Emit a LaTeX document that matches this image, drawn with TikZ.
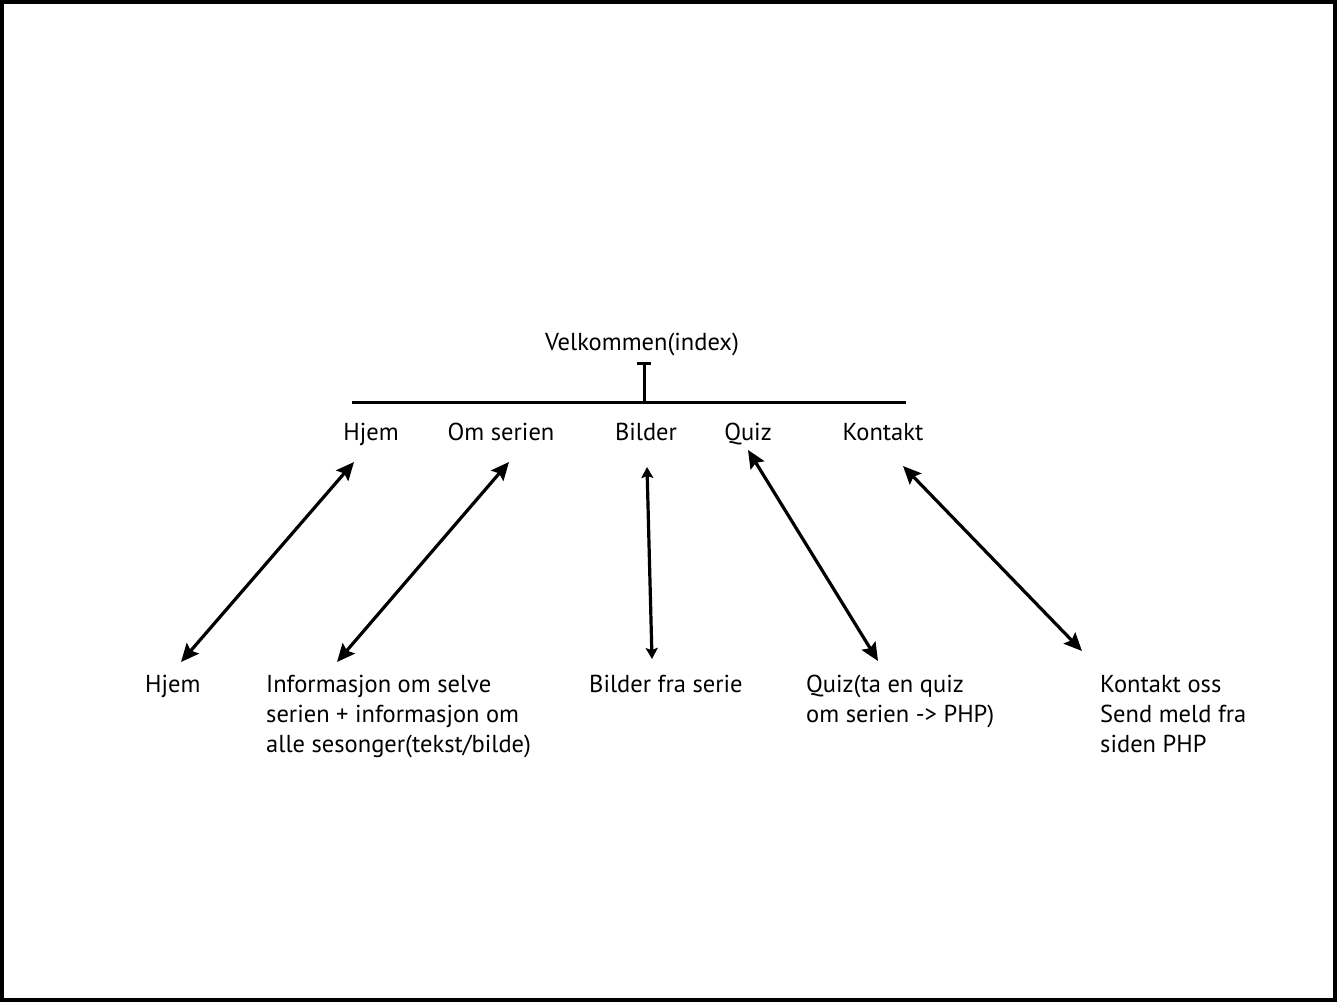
\documentclass[tikz,border=0pt]{standalone}
\usepackage{fontspec}
\setmainfont{PT Sans}
\usetikzlibrary{arrows.meta}
\begin{document}
\begin{tikzpicture}[x=1pt,y=-1pt,
  lbl/.style={inner sep=0pt, anchor=base, font=\fontsize{24.5}{30}\selectfont},
  sub/.style={inner sep=0pt, anchor=base west, align=left, font=\fontsize{24.5}{30}\selectfont},
  link/.style={line width=3.2pt, {Stealth[length=18pt,width=16pt,inset=3pt]}-{Stealth[length=18pt,width=16pt,inset=3pt]}},
  short link/.style={line width=3.2pt, {Stealth[length=11pt,width=12pt,inset=2pt]}-{Stealth[length=11pt,width=12pt,inset=2pt]}}]
\useasboundingbox (0,0) rectangle (1338,1004);
\draw[line width=4pt] (2,2) rectangle (1335,1000);

% root and menu bar
\node[lbl] (root) at (642,350) {Velkommen(index)};
\coordinate (barL) at (352,402);
\coordinate (barR) at (906,402);
\coordinate (barM) at (644,402);
\coordinate (rootEnd) at (644,362);
\draw[line width=3pt] (barL) -- (barR);
\draw[line width=3pt, -{Bar[width=14pt,line width=3pt]}] (barM) -- (rootEnd);

% menu entries
\node[lbl] (mHjem) at (371,440) {Hjem};
\node[lbl] (mOm) at (501,440) {Om serien};
\node[lbl] (mBilder) at (646,440) {Bilder};
\node[lbl] (mQuiz) at (748,440) {Quiz};
\node[lbl] (mKontakt) at (883,440) {Kontakt};

% pages (anchored on the baseline of the last line)
\node[sub] (pHjem) at (145,692) {Hjem};
\node[sub] (pOm) at (266,752) {Informasjon om selve\\serien + informasjon om\\alle sesonger(tekst/bilde)};
\node[sub] (pBilder) at (589,692) {Bilder fra serie};
\node[sub] (pQuiz) at (806,722) {Quiz(ta en quiz\\om serien -> PHP)};
\node[sub] (pKontakt) at (1100,752) {Kontakt oss\\Send meld fra\\siden PHP};

% connector ends
\coordinate (aHjem1) at (354,462);
\coordinate (aHjem2) at (181,662);
\coordinate (aOm1) at (509,462);
\coordinate (aOm2) at (337,662);
\coordinate (aBilder1) at (647,467);
\coordinate (aBilder2) at (652,659);
\coordinate (aQuiz1) at (748,450);
\coordinate (aQuiz2) at (878,661);
\coordinate (aKontakt1) at (903,466);
\coordinate (aKontakt2) at (1082,651);

\draw[link] (aHjem1) -- (aHjem2);
\draw[link] (aOm1) -- (aOm2);
\draw[short link] (aBilder1) -- (aBilder2);
\draw[link] (aQuiz1) -- (aQuiz2);
\draw[link] (aKontakt1) -- (aKontakt2);
\end{tikzpicture}
\end{document}
